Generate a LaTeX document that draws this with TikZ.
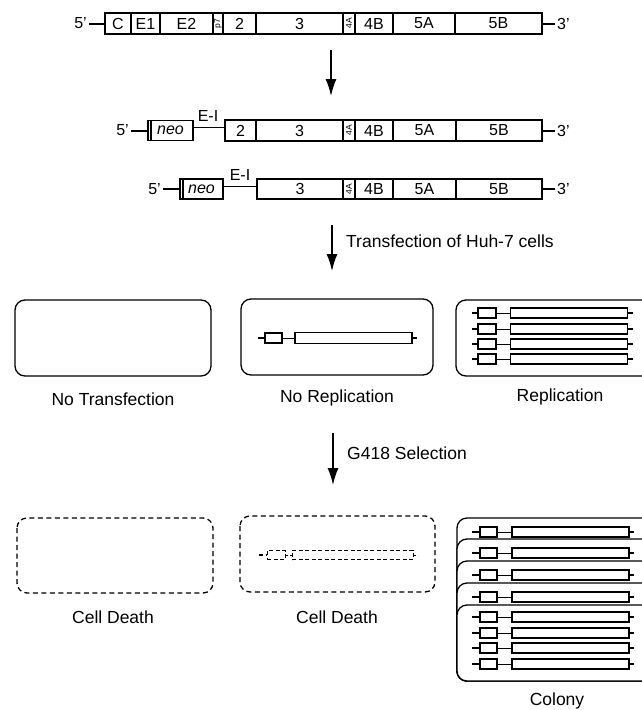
\documentclass[tikz,border=0pt]{standalone}
\usepackage{fontspec}
\setmainfont{Liberation Sans}
\usetikzlibrary{arrows.meta}
\begin{document}
\begin{tikzpicture}[x=1pt,y=-1pt,
  segbox/.style={draw, line width=1.1pt, inner sep=0pt, outer sep=0pt,
    minimum height=21pt, font=\fontsize{16}{16}\selectfont},
  lbl/.style={font=\fontsize{16}{16}\selectfont, inner sep=0pt},
  vlbl/.style={font=\fontsize{8.5}{8.5}\selectfont, inner sep=0pt, rotate=90},
  captxt/.style={font=\fontsize{17.5}{18}\selectfont, inner sep=0pt},
  cell/.style={draw, line width=1.3pt, rounded corners=10pt},
  deadcell/.style={draw, line width=1.3pt, rounded corners=10pt, dash pattern=on 5pt off 3.5pt},
  tail/.style={line width=2pt},
  link/.style={line width=1pt},
  mini/.style={draw, line width=1.5pt, inner sep=0pt, outer sep=0pt, minimum height=10pt},
  deadmini/.style={draw, line width=1pt, inner sep=0pt, outer sep=0pt, minimum height=9pt, dash pattern=on 4pt off 2.5pt},
  flow/.style={line width=1.5pt, -{Latex[length=17pt,width=11pt]}}]
\useasboundingbox (0,0) rectangle (642,710);

% ---------- full-length genome ----------
\node[lbl, anchor=east] (g5) at (87,23.5) {5'};
\node[segbox, minimum width=26pt] (gC) at (118,23.5) {C};
\node[segbox, minimum width=29pt] (gE1) at (145.5,23.5) {E1};
\node[segbox, minimum width=53pt] (gE2) at (186.5,23.5) {E2};
\node[segbox, minimum width=10pt] (gp7) at (218,23.5) {};
\node[vlbl] (gp7t) at (gp7) {p7};
\node[segbox, minimum width=33pt] (g2) at (239.5,23.5) {2};
\node[segbox, minimum width=87pt] (g3) at (299.5,23.5) {3};
\node[segbox, minimum width=12pt] (g4A) at (349,23.5) {};
\node[vlbl] (g4At) at (g4A) {4A};
\node[segbox, minimum width=38pt] (g4B) at (374,23.5) {4B};
\node[segbox, minimum width=62pt] (g5A) at (424,23.5) {5A};
\node[segbox, minimum width=87pt] (g5B) at (498.5,23.5) {5B};
\node[lbl, anchor=west] (g3p) at (557,23.5) {3'};
\draw[tail] ([xshift=2pt]g5.east) -- (gC.west);
\draw[tail] (g5B.east) -- ([xshift=-2pt]g3p.west);

% ---------- replicon with NS2 ----------
\node[lbl, anchor=east] (a5) at (129,130.5) {5'};
\node[segbox, minimum width=45pt, minimum height=20pt] (aneo) at (170.5,130.5) {\itshape neo};
\draw[line width=1.1pt] ([xshift=3pt]aneo.north west) -- ([xshift=3pt]aneo.south west);
\node[segbox, minimum width=31pt] (a2) at (240.5,130.5) {2};
\node[segbox, minimum width=87pt] (a3) at (299.5,130.5) {3};
\node[segbox, minimum width=12pt] (a4A) at (349,130.5) {};
\node[vlbl] (a4At) at (a4A) {4A};
\node[segbox, minimum width=38pt] (a4B) at (374,130.5) {4B};
\node[segbox, minimum width=63pt] (a5A) at (424.5,130.5) {5A};
\node[segbox, minimum width=86pt] (a5B) at (499,130.5) {5B};
\node[lbl, anchor=west] (a3p) at (557,130.5) {3'};
\node[lbl] (aei) at (208,116) {E-I};
\draw[tail] ([xshift=2pt]a5.east) -- (aneo.west);
\draw[link] ([yshift=3pt]aneo.east) -- ([yshift=3pt]a2.west);
\draw[tail] (a5B.east) -- ([xshift=-2pt]a3p.west);

% ---------- replicon starting at NS3 ----------
\node[lbl, anchor=east] (b5) at (161,189) {5'};
\node[segbox, minimum width=43pt, minimum height=20pt] (bneo) at (201.5,189) {\itshape neo};
\draw[line width=1.1pt] ([xshift=3pt]bneo.north west) -- ([xshift=3pt]bneo.south west);
\node[segbox, minimum width=86pt, minimum height=20pt] (b3) at (300,189) {3};
\node[segbox, minimum width=12pt, minimum height=20pt] (b4A) at (349,189) {};
\node[vlbl] (b4At) at (b4A) {4A};
\node[segbox, minimum width=38pt, minimum height=20pt] (b4B) at (374,189) {4B};
\node[segbox, minimum width=63pt, minimum height=20pt] (b5A) at (424.5,189) {5A};
\node[segbox, minimum width=86pt, minimum height=20pt] (b5B) at (499,189) {5B};
\node[lbl, anchor=west] (b3p) at (557,189) {3'};
\node[lbl] (bei) at (240,175) {E-I};
\draw[tail] ([xshift=2pt]b5.east) -- (bneo.west);
\draw[link] ([yshift=3pt]bneo.east) -- ([yshift=3pt]b3.west);
\draw[tail] (b5B.east) -- ([xshift=-2pt]b3p.west);

% ---------- process arrows ----------
\coordinate (f1s) at (331,50);  \coordinate (f1e) at (331,96);
\coordinate (f2s) at (332,225); \coordinate (f2e) at (332,271);
\coordinate (f3s) at (333,433); \coordinate (f3e) at (333,485);
\draw[flow] (f1s) -- (f1e);
\draw[flow] (f2s) -- (f2e);
\draw[flow] (f3s) -- (f3e);
\node[captxt, anchor=west] (t2) at (346,241) {Transfection of Huh-7 cells};
\node[captxt, anchor=west] (t3) at (347,453) {G418 Selection};

% ---------- cells after transfection ----------
\draw[cell] (15,300) rectangle (211,376);
\node[captxt] (lNT) at (113,399) {No Transfection};

\draw[cell] (241,299) rectangle (433,375);
\node[mini, minimum width=17pt] (nrS) at (273.5,338) {};
\node[mini, minimum width=117pt, minimum height=11pt] (nrL) at (353.5,338) {};
\coordinate (nrA) at (258,338); \coordinate (nrB) at (417,338);
\draw[tail] (nrA) -- (nrS.west);
\draw[link] (nrS.east) -- (nrL.west);
\draw[tail] (nrL.east) -- (nrB);
\node[captxt] (lNR) at (337,398) {No Replication};

\begin{scope}
\clip (0,0) rectangle (642,710);
\draw[cell] (456,300) rectangle (665,376);
\foreach \i/\yy in {1/313,2/329,3/344,4/359}{
  \node[mini, minimum width=18pt] (rS\i) at (487,\yy) {};
  \node[mini, minimum width=117pt] (rL\i) at (569,\yy) {};
  \coordinate (rA\i) at (472,\yy); \coordinate (rB\i) at (633,\yy);
  \draw[tail] (rA\i) -- (rS\i.west);
  \draw[link] (rS\i.east) -- (rL\i.west);
  \draw[tail] (rL\i.east) -- (rB\i);
}
\end{scope}
\node[captxt] (lR) at (560,397) {Replication};

% ---------- after G418 selection ----------
\draw[deadcell] (17,518) rectangle (213,593);
\node[captxt] (lCD1) at (113,617) {Cell Death};

\draw[deadcell] (240,516) rectangle (435,592);
\node[deadmini, minimum width=18pt] (dS) at (276,555) {};
\node[deadmini, minimum width=121pt] (dL) at (352.5,555) {};
\coordinate (dA) at (259,555); \coordinate (dB) at (418,555);
\draw[line width=1.6pt, dash pattern=on 4pt off 2.5pt] (dA) -- (dS.west);
\draw[link, dash pattern=on 3pt off 2pt] (dS.east) -- (dL.west);
\draw[link, dash pattern=on 3pt off 2pt] (dL.east) -- (dB);
\node[captxt] (lCD2) at (337,617) {Cell Death};

\begin{scope}
\clip (0,0) rectangle (642,710);
\foreach \k/\tt in {1/518,2/539,3/561,4/583}{
  \draw[cell, fill=white] (457,\tt) rectangle (665,681);
  \node[mini, minimum width=17pt] (cS\k) at (488.5,\tt+14) {};
  \node[mini, minimum width=117pt] (cL\k) at (570.5,\tt+14) {};
  \coordinate (cA\k) at (472,\tt+14); \coordinate (cB\k) at (634,\tt+14);
  \draw[tail] (cA\k) -- (cS\k.west);
  \draw[link] (cS\k.east) -- (cL\k.west);
  \draw[tail] (cL\k.east) -- (cB\k);
}
\draw[cell, fill=white] (457,605) rectangle (665,681);
\foreach \k/\yy in {5/617,6/633,7/648,8/664}{
  \node[mini, minimum width=17pt] (cS\k) at (488.5,\yy) {};
  \node[mini, minimum width=117pt] (cL\k) at (570.5,\yy) {};
  \coordinate (cA\k) at (472,\yy); \coordinate (cB\k) at (634,\yy);
  \draw[tail] (cA\k) -- (cS\k.west);
  \draw[link] (cS\k.east) -- (cL\k.west);
  \draw[tail] (cL\k.east) -- (cB\k);
}
\end{scope}
\node[captxt] (lCol) at (557,701) {Colony};
\end{tikzpicture}
\end{document}
